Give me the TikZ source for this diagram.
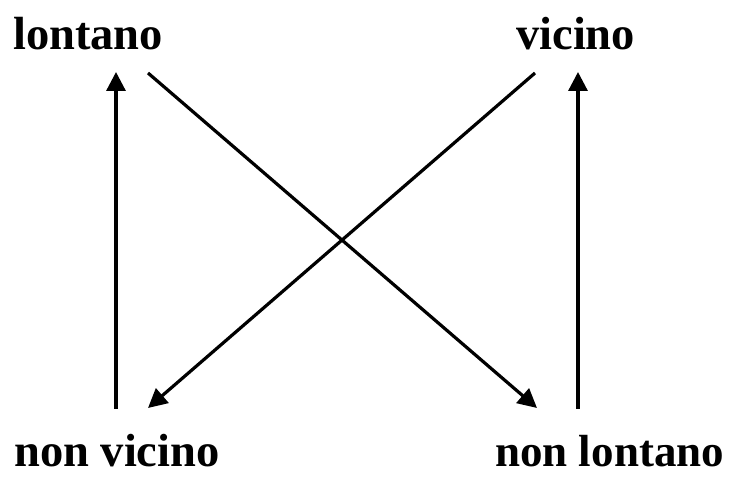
\documentclass[tikz,border=0pt]{standalone}
\usepackage{fontspec}
\setmainfont{Liberation Serif}
\usetikzlibrary{arrows.meta}
\tikzset{
  lbl/.style={font=\bfseries\fontsize{46.5}{50}\selectfont, inner sep=0pt, anchor=base west},
  arr/.style={line width=3.2pt, -{Triangle[length=19pt,width=19pt]}}
}
\begin{document}
\begin{tikzpicture}[x=1pt,y=1pt]
\useasboundingbox (0,0) rectangle (732,478);
\node[lbl] (lo) at (13,428) {lontano};
\node[lbl] (vi) at (516,428) {vicino};
\node[lbl] (nv) at (14,11) {non vicino};
\node[lbl, font=\bfseries\fontsize{45}{50}\selectfont] (nl) at (495,11) {non lontano};
\coordinate (lvB) at (116,69);
\coordinate (lvT) at (116,406);
\coordinate (rvB) at (578,69);
\coordinate (rvT) at (578,406);
\coordinate (d1S) at (148,405);
\coordinate (d1E) at (537,70);
\coordinate (d2S) at (535,405);
\coordinate (d2E) at (148,70);
\draw[arr] (lvB) -- (lvT);
\draw[arr] (rvB) -- (rvT);
\draw[arr] (d1S) -- (d1E);
\draw[arr] (d2S) -- (d2E);
\end{tikzpicture}
\end{document}
